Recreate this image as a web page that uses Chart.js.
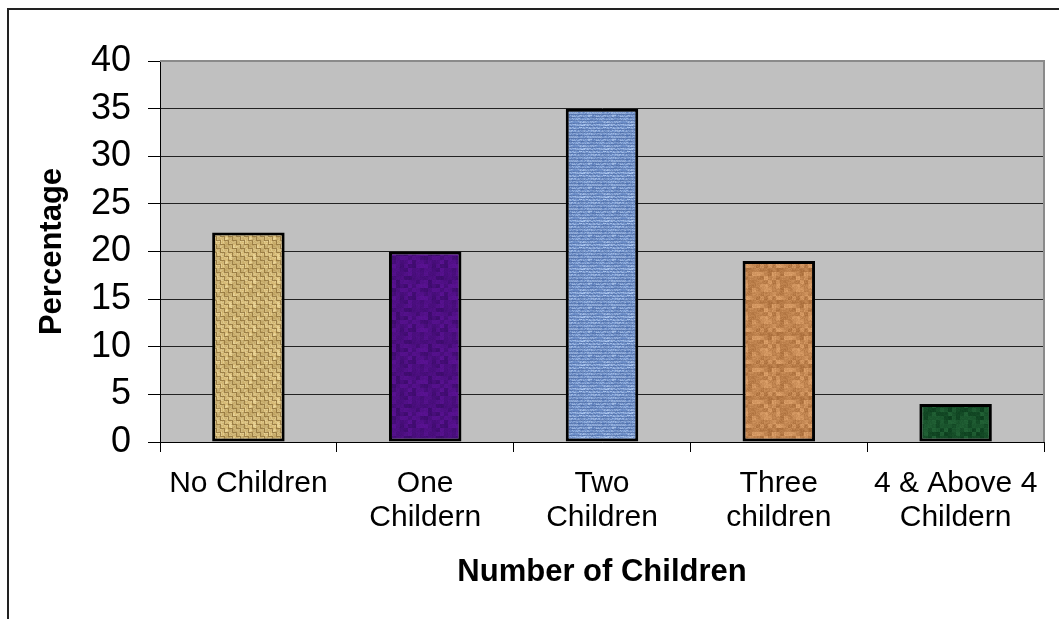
<!DOCTYPE html>
<html>
<head>
<meta charset="utf-8">
<script src="https://cdn.jsdelivr.net/npm/chart.js@4"></script>
<style>
  html, body { margin: 0; padding: 0; background: #fff; }
</style>
</head>
<body>
<canvas id="myChart" width="1059" height="619"></canvas>
<script>
const categories = ['No Children', ['One', 'Childern'], ['Two', 'Children'],
                    ['Three', 'children'], ['4 & Above 4', 'Childern']];
const percentages = [22, 20, 35, 19, 4];
const yMin = 0;
const yMax = 40;
const yStep = 5;

const FONT = '"Liberation Sans", Arial, Helvetica, sans-serif';

// cheap deterministic hash, used only to give the bar fills some grain
function grain(x, y, s) {
  const v = Math.sin(x * 12.9898 + y * 78.233 + s * 37.719) * 43758.5453;
  return v - Math.floor(v);
}

function makePattern(size, seed, paint) {
  const c = document.createElement('canvas');
  c.width = size;
  c.height = size;
  const g = c.getContext('2d');
  const img = g.createImageData(size, size);
  for (let y = 0; y < size; y++) {
    for (let x = 0; x < size; x++) {
      const [r, gg, b] = paint(x, y, grain(x, y, seed), grain(x >> 2, y >> 2, seed + 1));
      const i = (y * size + x) * 4;
      img.data[i] = r;
      img.data[i + 1] = gg;
      img.data[i + 2] = b;
      img.data[i + 3] = 255;
    }
  }
  g.putImageData(img, 0, 0);
  return g.createPattern(c, 'repeat');
}

function mix(a, b, t) {
  return [0, 1, 2].map(k => Math.round(a[k] + (b[k] - a[k]) * t));
}

const burlap = makePattern(24, 1, (x, y, n, m) => {
  const cell = ((x >> 2) + (y >> 2)) % 2;
  const thread = cell ? (x % 4 === 0) : (y % 4 === 0);
  let c = mix([215, 185, 115], [245, 230, 175], n * 0.7);
  if (thread) c = mix(c, [120, 90, 40], 0.65);
  return mix(c, [150, 120, 60], m * 0.4);
});
const purple = makePattern(32, 2, (x, y, n, m) =>
  mix([92, 18, 150], [55, 10, 100], m * 0.7 + n * 0.2));
const denim = makePattern(24, 3, (x, y, n, m) => {
  let c = mix([110, 145, 205], [180, 205, 242], n);
  if (y % 3 === 0) c = mix(c, [50, 80, 140], 0.45);
  return mix(c, [65, 95, 155], m * 0.3);
});
const tan = makePattern(32, 4, (x, y, n, m) =>
  mix([225, 165, 110], [160, 100, 50], m * 0.6 + n * 0.3));
const green = makePattern(32, 5, (x, y, n, m) =>
  mix([35, 100, 55], [8, 55, 25], m * 0.7 + n * 0.2));

const barFills = [burlap, purple, denim, tan, green];

const frame = {
  id: 'frame',
  beforeDraw(chart) {
    const {ctx, chartArea: a} = chart;
    ctx.save();
    ctx.fillStyle = '#fff';
    ctx.fillRect(0, 0, chart.width, chart.height);
    ctx.fillStyle = '#c0c0c0';
    ctx.fillRect(a.left, a.top, a.right - a.left, a.bottom - a.top);
    ctx.strokeStyle = '#222';
    ctx.lineWidth = 2;
    ctx.beginPath();
    ctx.moveTo(8, chart.height);
    ctx.lineTo(8, 9);
    ctx.lineTo(chart.width, 9);
    ctx.stroke();
    ctx.restore();
  },
  afterDraw(chart) {
    const {ctx, chartArea: a} = chart;
    ctx.save();
    ctx.strokeStyle = '#8a8a8a';
    ctx.lineWidth = 2;
    ctx.beginPath();
    ctx.moveTo(a.left, a.top);
    ctx.lineTo(a.right, a.top);
    ctx.lineTo(a.right, a.bottom);
    ctx.stroke();
    ctx.restore();
  }
};

const ctx = document.getElementById('myChart');
const chart = new Chart(ctx, {
  type: 'bar',
  data: {
    labels: categories,
    datasets: [{
      data: percentages,
      backgroundColor: barFills,
      borderColor: '#000',
      borderWidth: 3,
      borderSkipped: false,
      barPercentage: 0.41,
      categoryPercentage: 1
    }]
  },
  options: {
    responsive: false,
    animation: false,
    layout: {padding: {left: 30, top: 61, right: 15, bottom: 24}},
    plugins: {legend: {display: false}, tooltip: {enabled: false}},
    scales: {
      x: {
        afterFit: (scale) => { scale.height = 153; },
        grid: {drawOnChartArea: false, tickLength: 10, tickColor: '#000', offset: true},
        border: {display: true, color: '#000', width: 1},
        ticks: {color: '#000', padding: 15, font: {family: FONT, size: 30, lineHeight: 1.13}, maxRotation: 0},
        title: {display: true, text: 'Number of Children', color: '#000',
                font: {family: FONT, size: 31, weight: 'bold'}}
      },
      y: {
        min: yMin,
        max: yMax,
        afterFit: (scale) => { scale.width = 130; },
        grid: {
          color: (c) => c.tick && c.tick.value === yMax ? '#8a8a8a' : '#222',
          tickLength: 12,
          tickColor: '#000'
        },
        border: {display: true, color: '#000', width: 1},
        ticks: {stepSize: yStep, color: '#000', padding: 17, font: {family: FONT, size: 36}},
        title: {display: true, text: 'Percentage', color: '#000',
                font: {family: FONT, size: 31, weight: 'bold'}}
      }
    }
  },
  plugins: [frame]
});
</script>
</body>
</html>
